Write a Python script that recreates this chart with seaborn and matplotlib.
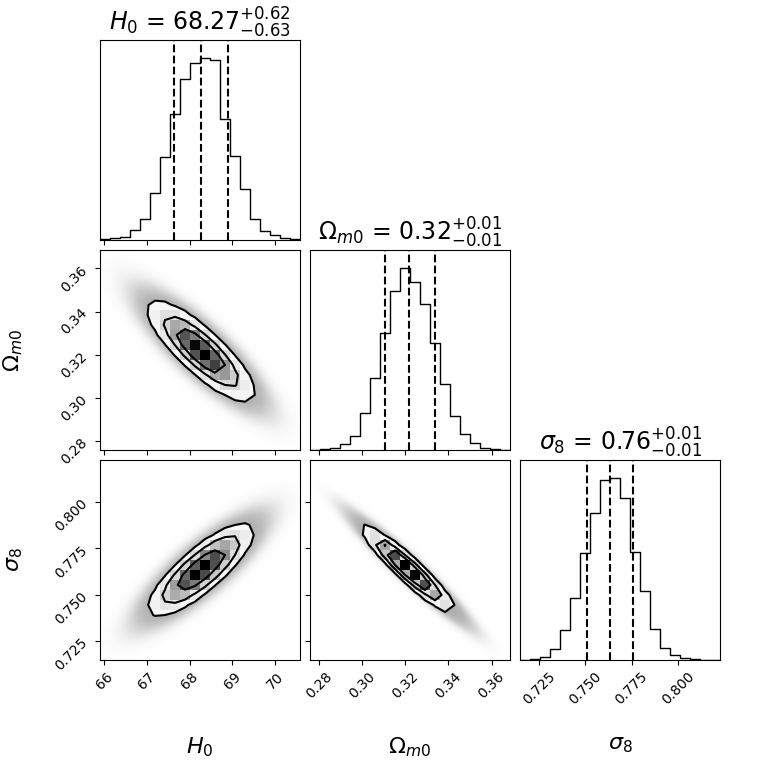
import numpy as np
import matplotlib
matplotlib.use("Agg")
import matplotlib.pyplot as plt
from matplotlib.colors import LinearSegmentedColormap
import seaborn as sns

# parameter names
labels = [r"$H_0$", r"$\Omega_{m0}$", r"$\sigma_8$"]

# 16th / 50th / 84th percentiles
q_h0 = [67.64, 68.27, 68.89]
q_om = [0.3104, 0.3216, 0.3336]
q_s8 = [0.7508, 0.7635, 0.7760]

# axis ranges (min / max of the chain)
range_h0 = (65.906, 70.585)
range_om = (0.2757, 0.3686)
range_s8 = (0.7148, 0.8227)

# tick positions
ticks_h0 = [66, 67, 68, 69, 70]
ticks_om = [0.28, 0.30, 0.32, 0.34, 0.36]
ticks_s8 = [0.725, 0.750, 0.775, 0.800]

# 1D histogram heights, 20 bins each (relative counts)
counts_h0 = [2, 5, 8, 30, 63, 140, 248, 378, 482, 530, 545, 538, 364, 252, 152, 62, 28, 16, 6, 2]
counts_om = [1, 3, 6, 18, 41, 111, 214, 350, 475, 544, 503, 436, 319, 198, 101, 48, 21, 6, 2, 1]
counts_s8 = [1, 3, 8, 34, 89, 184, 319, 439, 538, 544, 484, 322, 206, 94, 36, 16, 6, 2, 1, 1]

# correlation coefficients
corr_h0_om = -0.84
corr_h0_s8 = 0.83
corr_om_s8 = -0.955

quants = [q_h0, q_om, q_s8]
ranges = [range_h0, range_om, range_s8]
ticks = [ticks_h0, ticks_om, ticks_s8]
counts = [counts_h0, counts_om, counts_s8]
corr = {(1, 0): corr_h0_om, (2, 0): corr_h0_s8, (2, 1): corr_om_s8}

nbins = 20
sig_levels = np.array([1.0, 1.5, 2.0])
levels = 1.0 - np.exp(-0.5 * sig_levels ** 2)
density_cmap = LinearSegmentedColormap.from_list("density_cmap", [(1, 1, 1, 0), (0, 0, 0, 1)])


def maha2(u, v, rho):
    return (u * u - 2 * rho * u * v + v * v) / (1 - rho * rho)


def draw_2d(ax, j, i):
    # x = parameter j, y = parameter i
    mx, my = quants[j][1], quants[i][1]
    sx = (quants[j][2] - quants[j][0]) / 2
    sy = (quants[i][2] - quants[i][0]) / 2
    rho = corr[(i, j)]
    xr, yr = ranges[j], ranges[i]

    # cloud of samples outside the contours
    gx = np.linspace(xr[0], xr[1], 300)
    gy = np.linspace(yr[0], yr[1], 300)
    GX, GY = np.meshgrid(gx, gy)
    r2 = maha2((GX - mx) / sx, (GY - my) / sy, rho)
    ratio = np.exp(-0.5 * (r2 - 4.0))
    rgba = np.zeros((300, 300, 4))
    rgba[..., :3] = 0.3
    rgba[..., 3] = 0.5 * (1 - np.exp(-2.5 * ratio))
    ax.imshow(rgba, extent=(xr[0], xr[1], yr[0], yr[1]), origin="lower",
              aspect="auto", zorder=0, interpolation="bilinear")

    # binned density on the 20x20 grid
    xe = np.linspace(xr[0], xr[1], nbins + 1)
    ye = np.linspace(yr[0], yr[1], nbins + 1)
    sub = 8
    fxe = np.linspace(xr[0], xr[1], nbins * sub + 1)
    fye = np.linspace(yr[0], yr[1], nbins * sub + 1)
    FX, FY = np.meshgrid(0.5 * (fxe[1:] + fxe[:-1]), 0.5 * (fye[1:] + fye[:-1]), indexing="ij")
    Hf = np.exp(-0.5 * maha2((FX - mx) / sx, (FY - my) / sy, rho))
    H = Hf.reshape(nbins, sub, nbins, sub).sum(axis=(1, 3))

    Hflat = np.sort(H.ravel())[::-1]
    sm = np.cumsum(Hflat)
    sm /= sm[-1]
    V = np.array([Hflat[sm <= v][-1] for v in levels])
    V.sort()

    X1 = 0.5 * (xe[1:] + xe[:-1])
    Y1 = 0.5 * (ye[1:] + ye[:-1])
    H2 = H.min() + np.zeros((nbins + 4, nbins + 4))
    H2[2:-2, 2:-2] = H
    H2[2:-2, 1] = H[:, 0]
    H2[2:-2, -2] = H[:, -1]
    H2[1, 2:-2] = H[0]
    H2[-2, 2:-2] = H[-1]
    H2[1, 1] = H[0, 0]
    H2[1, -2] = H[0, -1]
    H2[-2, 1] = H[-1, 0]
    H2[-2, -2] = H[-1, -1]
    dx, dy = X1[1] - X1[0], Y1[1] - Y1[0]
    X2 = np.concatenate([X1[0] + np.array([-2, -1]) * dx, X1, X1[-1] + np.array([1, 2]) * dx])
    Y2 = np.concatenate([Y1[0] + np.array([-2, -1]) * dy, Y1, Y1[-1] + np.array([1, 2]) * dy])

    ax.contourf(X2, Y2, H2.T, [V.min(), H.max()], colors=["white"], antialiased=False, zorder=1)

    CX, CY = np.meshgrid(X1, Y1, indexing="ij")
    sns.histplot(x=CX.ravel(), y=CY.ravel(), weights=H.ravel(), bins=nbins,
                 binrange=[xr, yr], cmap=density_cmap, vmin=0, vmax=H.max(),
                 ax=ax, zorder=1)

    ax.contour(X2, Y2, H2.T, V, colors="k", linewidths=1.5, zorder=3)


fig, axes = plt.subplots(3, 3, figsize=(7.6, 7.6))
fig.subplots_adjust(left=0.1316, right=0.9474, bottom=0.1316, top=0.9474,
                    wspace=0.05, hspace=0.05)

for i in range(3):
    for j in range(3):
        ax = axes[i, j]
        if j > i:
            ax.set_axis_off()
            continue
        if i == j:
            edges = np.linspace(ranges[i][0], ranges[i][1], nbins + 1)
            centers = 0.5 * (edges[1:] + edges[:-1])
            sns.histplot(x=centers, weights=np.asarray(counts[i], dtype=float), bins=nbins,
                         binrange=ranges[i], element="step", fill=False, color="k",
                         linewidth=1.0, ax=ax)
            for q in quants[i]:
                ax.axvline(q, ls="dashed", color="k", lw=1.5)
            ax.set_ylim(0, 1.1 * max(counts[i]))
            ax.set_yticks([])
            ax.set_ylabel("")
            lo = quants[i][1] - quants[i][0]
            hi = quants[i][2] - quants[i][1]
            title = "{0} = ${{{1:.2f}}}_{{-{2:.2f}}}^{{+{3:.2f}}}$".format(
                labels[i], quants[i][1], lo, hi)
            ax.set_title(title, fontsize=17)
        else:
            draw_2d(ax, j, i)
            ax.set_ylim(ranges[i])
            ax.set_yticks(ticks[i])
            if j > 0:
                ax.set_yticklabels([])
                ax.set_ylabel("")
            else:
                ax.tick_params(axis="y", labelrotation=45)
                ax.set_ylabel(labels[i], fontsize=16)
                ax.yaxis.set_label_coords(-0.375, 0.5)
        ax.set_xlim(ranges[j])
        ax.set_xticks(ticks[j])
        if i < 2:
            ax.set_xticklabels([])
            ax.set_xlabel("")
        else:
            ax.tick_params(axis="x", labelrotation=45)
            ax.set_xlabel(labels[j], fontsize=16)
            ax.xaxis.set_label_coords(0.5, -0.375)

fig.savefig("out.png", dpi=100)
